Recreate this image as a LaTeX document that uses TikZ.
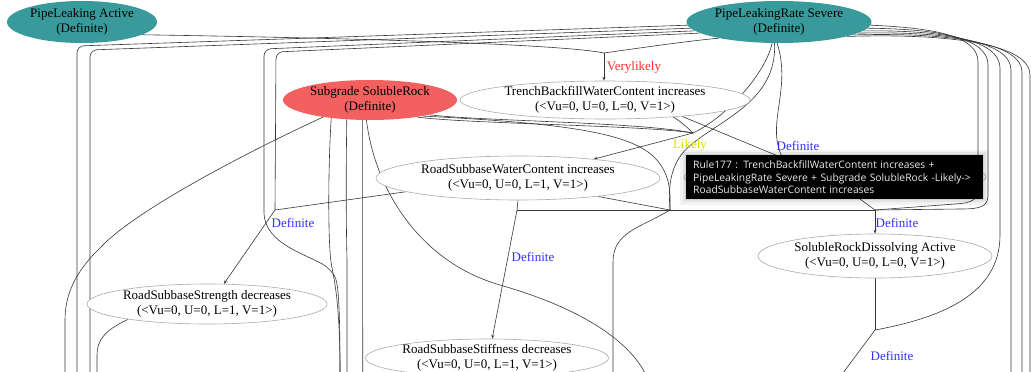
\documentclass[tikz,border=0pt]{standalone}
\usepackage{fontspec}
\setmainfont{Liberation Serif}
\newfontfamily\tipfont{Open Sans}
\usetikzlibrary{shapes.geometric,arrows.meta}
\definecolor{tealn}{RGB}{56,154,154}
\definecolor{redn}{RGB}{242,96,96}
\definecolor{edgec}{RGB}{55,55,55}
\definecolor{bordc}{RGB}{170,170,170}
\definecolor{defblue}{RGB}{50,50,255}
\definecolor{vlred}{RGB}{255,45,45}
\definecolor{likelyc}{RGB}{222,222,0}
\definecolor{tiptext}{RGB}{235,235,235}
\pgfdeclarelayer{background}
\pgfdeclarelayer{foreground}
\pgfsetlayers{background,main,foreground}
\begin{document}
\begin{tikzpicture}[x=1pt,y=-1pt,
  gnode/.style={ellipse, inner xsep=-45pt, inner ysep=-8pt, align=center, font=\fontsize{13}{15}\selectfont},
  tealnode/.style={gnode, fill=tealn},
  rednode/.style={gnode, fill=redn},
  whitenode/.style={gnode, fill=white, draw=bordc, line width=0.6pt},
  conn/.style={draw=edgec, line width=0.6pt},
  conna/.style={conn, -{Stealth[length=4pt,width=3pt]}},
  lbl/.style={font=\fontsize{13}{15}\selectfont, inner sep=0pt},
  tipbox/.style={fill=black, text=tiptext, align=left, text width=283pt, inner xsep=7pt, inner ysep=3pt,
    minimum height=44pt, font=\tipfont\fontsize{10.3}{12.6}\selectfont},
]
\useasboundingbox (0,0) rectangle (1031,372);

% nodes
\node[tealnode, minimum width=150pt, minimum height=42pt] (PLA) at (82,22) {PipeLeaking Active\\(Definite)};
\node[tealnode, minimum width=185pt, minimum height=42pt] (PLRS) at (779,22) {PipeLeakingRate Severe\\(Definite)};
\node[rednode, minimum width=174pt, minimum height=40pt] (SSR) at (370,100) {Subgrade SolubleRock\\(Definite)};
\node[whitenode, minimum width=290pt, minimum height=38pt] (TBWC) at (605,100) {TrenchBackfillWaterContent increases\\(<Vu=0, U=0, L=0, V=1>)};
\node[whitenode, minimum width=284pt, minimum height=44pt] (RSWC) at (518,178) {RoadSubbaseWaterContent increases\\(<Vu=0, U=0, L=1, V=1>)};
\node[whitenode, minimum width=302pt, minimum height=40pt] (HID) at (835,177) {};
\node[whitenode, minimum width=234pt, minimum height=44pt] (SRDA) at (875,256) {SolubleRockDissolving Active\\(<Vu=0, U=0, L=0, V=1>)};
\node[whitenode, minimum width=240pt, minimum height=40pt] (RSS) at (207,304) {RoadSubbaseStrength decreases\\(<Vu=0, U=0, L=1, V=1>)};
\node[whitenode, minimum width=243pt, minimum height=38pt] (RSSt) at (487,358) {RoadSubbaseStiffness decreases\\(<Vu=0, U=0, L=1, V=1>)};

% junctions and free ends
\coordinate (J1) at (604,53);
\coordinate (J2) at (693,133);
\coordinate (J3) at (875,210);
\coordinate (J4) at (275,210);
\coordinate (J5) at (517,210);
\coordinate (J6) at (875,330);
\coordinate (J7) at (670,210);
\coordinate (b65) at (65,373);
\coordinate (b77) at (77,373);
\coordinate (b90) at (90,373);
\coordinate (b97) at (97,373);
\coordinate (b340) at (340,373);
\coordinate (b347) at (347,373);
\coordinate (b362) at (362.7,373);
\coordinate (b613) at (613,373);
\coordinate (b643) at (645,373);
\coordinate (b843) at (843,373);
\coordinate (b1011) at (1011,373);
\coordinate (b1022) at (1022,373);
\coordinate (b1030) at (1030,373);

\begin{pgfonlayer}{background}
\fill[white] (0,0) rectangle (1031,372);
% Verylikely junction
\draw[conn] (PLA.-12) .. controls (350,38) and (560,44) .. (J1);
\draw[conn] (PLRS.-165) .. controls (680,42) and (640,48) .. (J1);
\draw[conna] (J1) -- (J1 |- TBWC.north);
% long edges to the left
\draw[conn, rounded corners=7pt] (PLRS.182) -- (77,46) -- (b77);
\draw[conn, rounded corners=7pt] (PLRS.184) -- (90,50) -- (b90);
\draw[conn, rounded corners=7pt] (PLRS.186) -- (264,49) -- (264,205) .. controls (264,245) and (310,255) .. (331,270) .. controls (338,282) and (340,300) .. (b340);
\draw[conn, rounded corners=7pt] (PLRS.188) -- (276,52) -- (J4);
\draw[conna] (J4) -- (RSS.50);
\draw[conn] (RSWC.187) -- (J4);
% from Subgrade SolubleRock
\draw[conn] (SSR.-160) .. controls (230,160) and (130,215) .. (100,248) .. controls (75,272) and (65,295) .. (65,320) -- (b65);
\draw[conn] (SSR.-155) .. controls (328,170) and (328,240) .. (331,262) .. controls (334,280) and (340,300) .. (b340);
\draw[conn] (SSR.-140) .. controls (346,170) and (346,220) .. (347,260) -- (b347);
\draw[conn] (SSR.-110) -- (b362);
\draw[conn] (SSR.-100) .. controls (375,190) and (420,262) .. (500,285) .. controls (570,305) and (625,335) .. (b643);
\draw[conn] (SSR.-20) .. controls (470,124) and (640,125) .. (J2);
\draw[conn] (SSR.-14) .. controls (480,121) and (640,122) .. (J2);
\draw[conn] (SSR.-17) .. controls (560,123) and (630,132) .. (655,158) .. controls (672,176) and (670,195) .. (J7);
% Likely junction
\draw[conn] (TBWC.-14) .. controls (680,121) and (688,128) .. (J2);
\draw[conn] (PLRS.-108) .. controls (765,75) and (725,118) .. (J2);
\draw[conna] (J2) -- (RSWC.14);
\draw[conn] (PLRS.-102) .. controls (778,110) and (700,125) .. (679,158) .. controls (668,176) and (669,195) .. (J7);
\draw[conn] (PLRS.-95) .. controls (792,90) and (765,125) .. (HID.160);
\draw[conna] (TBWC.-12) -- (HID.160);
% Definite to SolubleRockDissolving
\draw[conn] (HID.-42) -- (J3);
\draw[conna] (J3) -- (SRDA.north);
\draw[conn] (J7) -- (J3);
\draw[conn] (J5) -- (J7);
\draw[conn] (RSWC.south) -- (J5);
\draw[conna] (J5) -- (RSSt.75);
\draw[conn] (RSWC.-13.5) -- (J7);
\draw[conn] (J7) .. controls (640,228) and (613,232) .. (613,262) -- (b613);
% fan to the right
\draw[conn] (PLRS.-2) .. controls (935,28) and (978,36) .. (978,62) -- (978,188) .. controls (978,200) and (972,203) .. (955,204) -- (J3);
\draw[conn] (PLRS.-4) .. controls (940,29) and (988,38) .. (988,65) -- (988,195) .. controls (988,207) and (980,209) .. (960,209) -- (J3);
\draw[conn] (PLRS.-6) .. controls (945,30) and (1000,40) .. (1000,68) -- (1000,235) .. controls (1000,295) and (940,318) .. (J6);
\draw[conn] (PLRS.-8) .. controls (950,31) and (1011,42) .. (1011,70) -- (b1011);
\draw[conn] (PLRS.-10) .. controls (955,32) and (1022,44) .. (1022,72) -- (b1022);
\draw[conn] (PLRS.-12) .. controls (960,33) and (1030,46) .. (1030,75) -- (b1030);
\draw[conn] (SRDA.south) -- (J6);
\draw[conn] (J6) -- (b843);
% from RoadSubbaseStrength
\draw[conn] (RSS.-169) .. controls (105,330) and (97,340) .. (97,355) -- (b97);
\end{pgfonlayer}

% labels
\node[lbl, text=vlred] (lVL) at (634,67) {Verylikely};
\node[lbl, text=likelyc] (lLk) at (690,145) {Likely};
\node[lbl, text=defblue] (lD1) at (798,146) {Definite};
\node[lbl, text=defblue] (lD2) at (897,223) {Definite};
\node[lbl, text=defblue] (lD3) at (293,223) {Definite};
\node[lbl, text=defblue] (lD4) at (533,257) {Definite};
\node[lbl, text=defblue] (lD5) at (892,356) {Definite};

\begin{pgfonlayer}{foreground}
\fill[black, opacity=0.05] (680,150) rectangle (989,205);
\fill[black, opacity=0.06] (683,152) rectangle (986,202);
\fill[black, opacity=0.08] (685,154) rectangle (984,200);
\node[tipbox, anchor=north west] (tip) at (686,155) {Rule177 : TrenchBackfillWaterContent increases +\\PipeLeakingRate Severe + Subgrade SolubleRock -Likely->\\RoadSubbaseWaterContent increases};
\end{pgfonlayer}
\end{tikzpicture}
\end{document}
